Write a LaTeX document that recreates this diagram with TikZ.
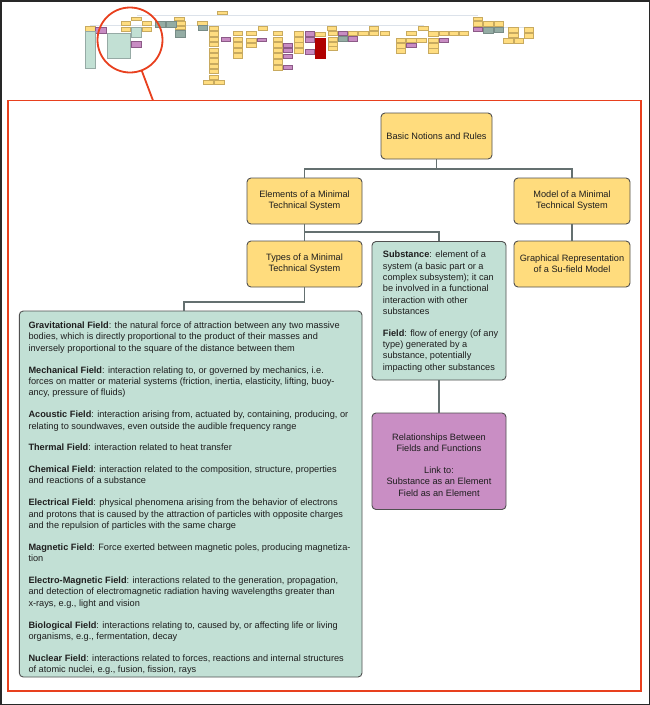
\documentclass[tikz,border=0pt]{standalone}
\usepackage{fontspec}
\setmainfont{Liberation Sans}
\definecolor{yfill}{RGB}{255,220,125}
\definecolor{gfill}{RGB}{194,224,213}
\definecolor{pfill}{RGB}{201,142,196}
\definecolor{boxline}{RGB}{80,80,80}
\definecolor{connc}{RGB}{100,112,112}
\definecolor{txt}{RGB}{30,30,30}
\definecolor{redc}{RGB}{232,64,30}
\definecolor{outer}{RGB}{40,40,40}
\definecolor{thy}{RGB}{255,221,128}
\definecolor{thyb}{RGB}{200,170,95}
\definecolor{thp}{RGB}{200,140,195}
\definecolor{thpb}{RGB}{140,90,135}
\definecolor{thg}{RGB}{194,224,212}
\definecolor{thgb}{RGB}{150,170,165}
\definecolor{thd}{RGB}{148,172,164}
\definecolor{thdb}{RGB}{120,140,135}
\definecolor{thr}{RGB}{176,0,0}
\definecolor{thline}{RGB}{220,226,234}
\tikzset{
  box/.style={draw=boxline, line width=0.9pt, rounded corners=4pt, inner sep=0pt,
    text=txt, align=center, font=\fontsize{9.2}{11}\selectfont},
  ybox/.style={box, fill=yfill},
  gbox/.style={box, fill=gfill},
  pbox/.style={box, fill=pfill},
  paratext/.style={inner sep=0pt, text=txt, align=left},
  conn/.style={draw=connc, line width=1.5pt},
  ty/.style={fill=thy, draw=thyb, line width=0.5pt},
  tp/.style={fill=thp, draw=thpb, line width=0.5pt},
  tg/.style={fill=thg, draw=thgb, line width=0.5pt},
  td/.style={fill=thd, draw=thdb, line width=0.5pt},
  tr/.style={fill=thr, draw=thr, line width=0.5pt},
  tl/.style={draw=thline, line width=0.8pt},
  redline/.style={draw=redc, line width=1.8pt},
}
\begin{document}
\begin{tikzpicture}[x=1pt,y=-1pt]
\useasboundingbox (0,0) rectangle (650,705);
\fill[white] (0,0) rectangle (650,705);
% ---------- thumbnail ----------
\draw[tl] (137,15.5) -- (478,15.5);
\draw[tl] (90,25.3) -- (424,25.3);
\draw[tl] (503,27.5) -- (534,27.5);
% yellow
\foreach \a/\b/\c/\d in {85/26.3/95/31.3, 131.7/17/141/20.3, 121/21.3/130.7/25.7, 121/27/130.7/31.3,
  142.3/21.3/151.7/25.7, 142.3/27/151.7/31.3, 174.3/17/184/20.3, 175/21.3/185/25.7, 175/26.3/185/29.7,
  197.3/21.3/207.7/25.3, 217.7/11.3/227.3/14.7, 203/80.3/213/84.7, 214/80.3/224/84.7,
  258/26/267/30.3, 315.7/32/325.3/36, 327.3/26.3/336.7/30.3, 348.3/31.3/357.3/35.7,
  358.7/31.3/368.3/35.7, 369.3/26.3/378.7/30.3, 369.3/31.3/378.7/35.7, 380/31.3/389.3/35.7,
  406.7/31.3/416/35.7, 406.7/38/416/42.3, 416.7/38/426.7/42.3, 418.3/26.3/428.3/30.3,
  439/31.3/448.3/35.7, 449.3/31.3/458.7/35.7, 459.3/31.3/468.7/35.7,
  473.3/17/482.7/20.3, 473.3/21.3/482.7/26.3, 483.7/21.3/493.7/26.3, 494/21.3/503.7/26.3,
  508.3/27.3/518.3/32, 508.3/33/518.3/37.3, 524.3/27.3/533.7/32, 524.3/33/533.7/38,
  503.3/38.7/513.3/43.7, 514/38.7/523.7/43.7}
  \draw[ty] (\a,\b) rectangle (\c,\d);
\foreach \k in {0,...,9} \draw[ty] (209,26.3+5.4*\k) rectangle (218.3,30.5+5.4*\k);
\foreach \y in {31.3,37.3,42.7,48,53.7} \draw[ty] (233.3,\y) rectangle (242.7,\y+4.3);
\foreach \y in {31.3,38,43} \draw[ty] (246.7,\y) rectangle (256.7,\y+4.3);
\foreach \y in {31.3,37.3,42.7,48,53.7,59.7,65.7} \draw[ty] (273.3,\y) rectangle (282.7,\y+4.3);
\foreach \y in {31.3,37.3,42.7,48.7} \draw[ty] (294.3,\y) rectangle (303.7,\y+4.5);
\foreach \y in {31.3,37,42.3,46.3} \draw[ty] (328.3,\y) rectangle (337.7,\y+3.8);
\foreach \y in {38,43.7,48.7} \draw[ty] (396,\y) rectangle (405.3,\y+4.5);
\foreach \y in {31.3,38,43.7,48.7} \draw[ty] (428.3,\y) rectangle (438.3,\y+4.5);
% purple
\foreach \a/\b/\c/\d in {95/27.3/106/33.7, 131.7/41.3/141/47, 221/37.3/230/41.3, 257.7/38/266.7/41.3,
  338.3/31.3/347.3/35.7, 348.3/36.3/357.3/41, 406.7/43.7/416/47.3, 439/38/448.3/42.3,
  473.3/27.3/482.7/31.3}
  \draw[tp] (\a,\b) rectangle (\c,\d);
\foreach \y in {43,48.7,54.7,65.7} \draw[tp] (283.3,\y) rectangle (292.7,\y+4);
\foreach \y in {31.3,37.3,49.5} \draw[tp] (305,\y) rectangle (314,\y+4.5);
% green
\draw[tg] (85,31.3) rectangle (95,68);
\draw[tg] (107.3,33) rectangle (130.7,58);
\draw[tg] (131.7,27) rectangle (141,37.3);
% grey-green
\foreach \a/\b/\c/\d in {155/21.3/165/27, 166/21.3/176/27, 175/30.7/185/37.3, 198/25.7/207.7/30.7,
  338.3/36.3/347.3/41.3, 483.7/27/493.7/33, 494/27/503.7/32}
  \draw[td] (\a,\b) rectangle (\c,\d);
% red
\draw[tr] (315,38) rectangle (325.3,58);
% ---------- magnifier ----------
\coordinate (cc) at (130,40);
\draw[redline] (cc) circle (32.5pt);
\coordinate (lensend) at (141.6,70.3);
\coordinate (frameend) at (153,100.5);
\draw[redline] (lensend) -- (frameend);
\draw[redline] (8,100.5) rectangle (641,691);
% ---------- main diagram ----------
\node[ybox, minimum width=111pt, minimum height=46pt] (basic) at (436.5,136) {Basic Notions and Rules};
\node[ybox, minimum width=115pt, minimum height=46pt] (elements) at (304.5,201) {Elements of a Minimal\\Technical System};
\node[ybox, minimum width=116pt, minimum height=46pt] (model) at (572,201) {Model of a Minimal\\Technical System};
\node[ybox, minimum width=115pt, minimum height=46pt] (types) at (304.5,264) {Types of a Minimal\\Technical System};
\node[ybox, minimum width=116pt, minimum height=46pt] (graph) at (572,264) {Graphical Representation\\of a Su-field Model};
\node[gbox, minimum width=134pt, minimum height=138.5pt] (subst) at (439,310.75) {};
\node[pbox, minimum width=134pt, minimum height=96.5pt] (rel) at (439,461.25) {};
\node[gbox, minimum width=342.7pt, minimum height=366pt] (fields) at (190.65,494) {};
% connectors
\coordinate (j1) at (436.5,169.5);
\draw[conn] (basic.south) -- (j1);
\draw[conn] (elements.north) -- ++(0,-8.5) -| (model.north);
\draw[conn] (elements.south) -- (types.north);
\draw[conn] (types.north) -- ++(0,-8.5) -| (subst.north);
\draw[conn] (model.south) -- (graph.north);
\draw[conn] (types.south) -- ++(0,14.5) -| ([xshift=-6.65pt]fields.north);
\draw[conn] (subst.south) -- (rel.north);
% texts
\node[paratext, anchor=north west, font=\fontsize{9.2}{11.3}\selectfont] (substtext) at (382.7,251) {%
\textbf{Substance}: element of a\\
system (a basic part or a\\
complex subsystem); it can\\
be involved in a functional\\
interaction with other\\
substances\\[10.7pt]
\textbf{Field}: flow of energy (of any\\
type) generated by a\\
substance, potentially\\
impacting other substances};
\node[paratext, align=center, anchor=north, font=\fontsize{9.2}{11.5}\selectfont] (reltext) at (439,433.3) {%
Relationships Between\\
Fields and Functions\\[10.2pt]
Link to:\\
Substance as an Element\\
Field as an Element};
\node[paratext, anchor=north west, font=\fontsize{9.2}{11.45}\selectfont] (fieldstext) at (28.3,321.6) {%
\textbf{Gravitational Field}: the natural force of attraction between any two massive\\
bodies, which is directly proportional to the product of their masses and\\
inversely proportional to the square of the distance between them\\[10.25pt]
\textbf{Mechanical Field}: interaction relating to, or governed by mechanics, i.e.\\
forces on matter or material systems (friction, inertia, elasticity, lifting, buoy-\\
ancy, pressure of fluids)\\[10.25pt]
\textbf{Acoustic Field}: interaction arising from, actuated by, containing, producing, or\\
relating to soundwaves, even outside the audible frequency range\\[10.25pt]
\textbf{Thermal Field}: interaction related to heat transfer\\[10.25pt]
\textbf{Chemical Field}: interaction related to the composition, structure, properties\\
and reactions of a substance\\[10.25pt]
\textbf{Electrical Field}: physical phenomena arising from the behavior of electrons\\
and protons that is caused by the attraction of particles with opposite charges\\
and the repulsion of particles with the same charge\\[10.25pt]
\textbf{Magnetic Field}: Force exerted between magnetic poles, producing magnetiza-\\
tion\\[10.25pt]
\textbf{Electro-Magnetic Field}: interactions related to the generation, propagation,\\
and detection of electromagnetic radiation having wavelengths greater than\\
x-rays, e.g., light and vision\\[10.25pt]
\textbf{Biological Field}: interactions relating to, caused by, or affecting life or living\\
organisms, e.g., fermentation, decay\\[10.25pt]
\textbf{Nuclear Field}: interactions related to forces, reactions and internal structures\\
of atomic nuclei, e.g., fusion, fission, rays};
% outer border
\draw[outer, line width=1.5pt] (0.75,0.75) rectangle (649.25,704.25);
\end{tikzpicture}
\end{document}
